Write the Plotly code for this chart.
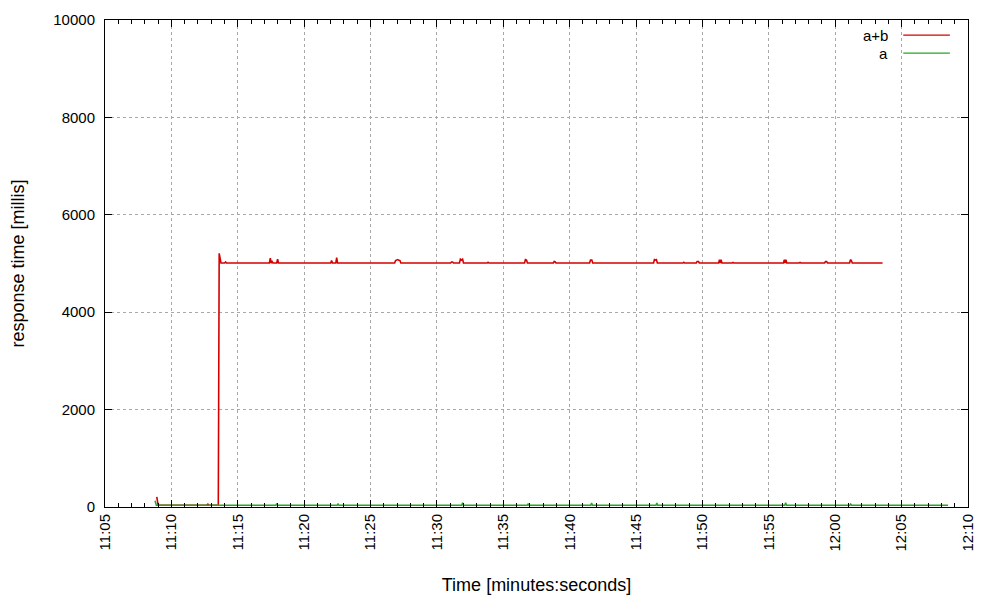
import plotly.graph_objects as go

# datos: tiempo (hh:mm:ss) y tiempo de respuesta en ms
red_time = ["11:08:54", "11:09:00", "11:12:40", "11:12:45", "11:12:50", "11:13:32", "11:13:36", "11:13:40", "11:13:44",
            "11:14:01", "11:14:05", "11:14:09", "11:16:47", "11:16:51", "11:16:55", "11:17:23", "11:17:27", "11:17:31",
            "11:17:35", "11:17:39", "11:17:56", "11:18:00", "11:18:04", "11:18:46", "11:18:50", "11:18:54", "11:19:00",
            "11:19:04", "11:19:08", "11:22:00", "11:22:04", "11:22:08", "11:22:23", "11:22:27", "11:22:31", "11:23:04",
            "11:23:08", "11:23:12", "11:25:03", "11:25:07", "11:25:11", "11:26:09", "11:26:13", "11:26:17", "11:26:49",
            "11:26:53", "11:26:58", "11:27:03", "11:27:08", "11:27:13", "11:27:17", "11:28:06", "11:28:10", "11:28:14",
            "11:30:05", "11:30:09", "11:30:13", "11:31:02", "11:31:06", "11:31:11", "11:31:15", "11:31:42", "11:31:46",
            "11:31:51", "11:31:56", "11:32:00", "11:33:47", "11:33:51", "11:33:55", "11:35:56", "11:36:00", "11:36:04",
            "11:36:36", "11:36:40", "11:36:45", "11:36:49", "11:38:46", "11:38:50", "11:38:54", "11:38:58", "11:40:43",
            "11:40:47", "11:40:51", "11:41:30", "11:41:34", "11:41:40", "11:41:44", "11:43:33", "11:43:37", "11:43:41",
            "11:44:36", "11:44:40", "11:44:44", "11:45:44", "11:45:48", "11:45:52", "11:46:19", "11:46:23", "11:46:28",
            "11:46:32", "11:46:36", "11:48:32", "11:48:36", "11:48:40", "11:49:32", "11:49:36", "11:49:42", "11:49:46",
            "11:50:15", "11:50:19", "11:50:23", "11:51:13", "11:51:17", "11:51:20", "11:51:24", "11:51:28", "11:52:14",
            "11:52:18", "11:52:22", "11:54:16", "11:54:20", "11:54:24", "11:56:06", "11:56:10", "11:56:13", "11:56:17",
            "11:56:21", "11:57:17", "11:57:21", "11:57:25", "11:59:12", "11:59:16", "11:59:21", "11:59:25", "12:01:05",
            "12:01:09", "12:01:13", "12:01:17", "12:01:56", "12:02:00", "12:02:04", "12:03:34"]
red_ms = [210, 35, 35, 60, 35, 35, 5210, 5120, 5010,
          5010, 5030, 5010, 5010, 5025, 5010, 5010, 5110, 5010,
          5040, 5010, 5010, 5090, 5010, 5010, 5025, 5010, 5010,
          5025, 5010, 5010, 5060, 5010, 5010, 5120, 5010, 5010,
          5025, 5010, 5010, 5020, 5010, 5010, 5025, 5010, 5010,
          5060, 5070, 5080, 5065, 5060, 5010, 5010, 5025, 5010,
          5010, 5020, 5010, 5010, 5030, 5030, 5010, 5010, 5090,
          5070, 5090, 5010, 5010, 5025, 5010, 5010, 5025, 5010,
          5010, 5080, 5070, 5010, 5010, 5040, 5035, 5010, 5010,
          5020, 5010, 5010, 5070, 5070, 5010, 5010, 5020, 5010,
          5010, 5020, 5010, 5010, 5020, 5010, 5010, 5080, 5070,
          5080, 5010, 5010, 5025, 5010, 5010, 5040, 5040, 5010,
          5010, 5020, 5010, 5010, 5080, 5010, 5080, 5010, 5010,
          5020, 5010, 5010, 5020, 5010, 5010, 5080, 5010, 5080,
          5010, 5010, 5020, 5010, 5010, 5040, 5040, 5010, 5010,
          5080, 5060, 5010, 5010, 5020, 5010, 5010]

green_time = ["11:08:46", "11:08:52", "11:17:52", "11:17:56", "11:18:00", "11:22:29", "11:22:33", "11:22:37", "11:31:52",
              "11:31:56", "11:32:00", "11:36:48", "11:36:52", "11:36:56", "11:41:35", "11:41:39", "11:41:43", "11:46:30",
              "11:46:34", "11:46:38", "11:56:12", "11:56:16", "11:56:20", "12:01:06", "12:01:10", "12:01:14", "12:08:30"]
green_ms = [130, 35, 35, 70, 35, 35, 60, 35, 35,
            90, 35, 35, 60, 35, 35, 80, 35, 35,
            80, 35, 35, 90, 35, 35, 60, 35, 35]

x_ticks = ["11:05", "11:10", "11:15", "11:20", "11:25", "11:30", "11:35",
           "11:40", "11:45", "11:50", "11:55", "12:00", "12:05", "12:10"]

day = "2020-01-01 "
fuente = dict(family="Liberation Sans, Arial, sans-serif", size=15, color="black")

fig = go.Figure()
fig.add_trace(go.Scatter(x=[day + t for t in red_time], y=red_ms, mode="lines", name="a+b",
                         line=dict(color="#d40000", width=1.6)))
fig.add_trace(go.Scatter(x=[day + t for t in green_time], y=green_ms, mode="lines", name="a",
                         line=dict(color="#22a822", width=1.5)))

# la pagina deja 8px de margen, se compensa aqui
fig.update_layout(
    width=1000, height=600,
    margin=dict(l=97, r=40, t=12, b=101, autoexpand=False),
    plot_bgcolor="white", paper_bgcolor="white",
    font=fuente, showlegend=False,
)

fig.update_xaxes(
    type="date", range=[day + "11:05:00", day + "12:10:00"], automargin=False,
    tickvals=[day + t for t in x_ticks], ticktext=x_ticks, tickangle=-90,
    showline=True, linecolor="black", linewidth=1, mirror="allticks",
    ticks="inside", ticklen=7, tickcolor="black",
    minor=dict(dtick=60000, ticks="inside", ticklen=4, tickcolor="black", showgrid=False),
    showgrid=True, gridcolor="#a8a8a8", griddash="dot", gridwidth=1,
    title=dict(text="Time [minutes:seconds]", standoff=27), zeroline=False,
)
fig.update_yaxes(
    range=[0, 10000], dtick=2000, tickformat="d", automargin=False,
    showline=True, linecolor="black", linewidth=1, mirror="allticks",
    ticks="inside", ticklen=7, tickcolor="black", ticklabelstandoff=6,
    showgrid=True, gridcolor="#a8a8a8", griddash="dot", gridwidth=1,
    title=dict(text="response time [millis]", standoff=27), zeroline=False,
)

# leyenda estilo gnuplot: texto a la izquierda, linea a la derecha
series = [("a+b", "#d40000", 0.969), ("a", "#22a822", 0.932)]
for nombre, color, yy in series:
    fig.add_annotation(x=0.91, y=yy, xref="paper", yref="paper", text=nombre, showarrow=False,
                       xanchor="right", yanchor="middle", font=fuente)
    fig.add_shape(type="line", xref="paper", yref="paper", x0=0.925, x1=0.979, y0=yy, y1=yy,
                  line=dict(color=color, width=1.3))

fig.write_html("out.html")
